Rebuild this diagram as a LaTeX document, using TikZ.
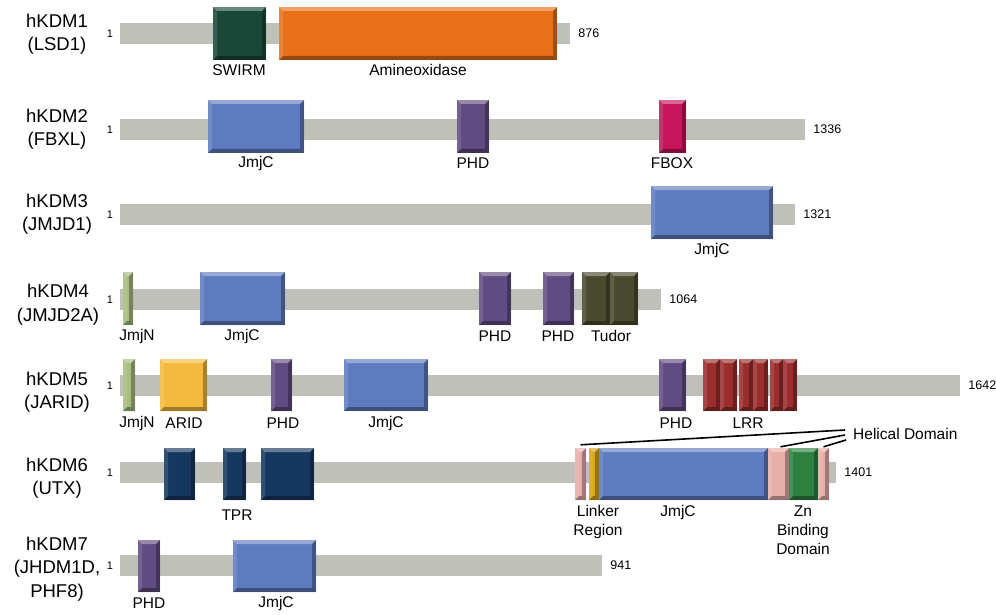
\documentclass[tikz,border=0pt]{standalone}
\usepackage{fontspec}
\setmainfont{Liberation Sans}
\usetikzlibrary{fit}
\definecolor{bargray}{RGB}{191,192,186}
\definecolor{cswirm}{RGB}{26,72,56}
\definecolor{corange}{RGB}{232,112,25}
\definecolor{cjmjc}{RGB}{93,123,190}
\definecolor{cphd}{RGB}{96,76,130}
\definecolor{cfbox}{RGB}{200,20,90}
\definecolor{cjmjn}{RGB}{168,190,128}
\definecolor{ctudor}{RGB}{74,74,46}
\definecolor{carid}{RGB}{243,186,62}
\definecolor{clrr}{RGB}{155,45,45}
\definecolor{ctpr}{RGB}{22,56,96}
\definecolor{cpink}{RGB}{232,175,168}
\definecolor{clink}{RGB}{218,165,18}
\definecolor{czn}{RGB}{46,128,64}
\newcommand{\domb}[6]{\node[dom=#6, fit={(#2,#4)(#3,#5)}] (#1) {};}
\newcommand{\barb}[4]{\node[bar, fit={(120,#2)(#3,#4)}] (#1) {};}
\begin{document}
\begin{tikzpicture}[x=1pt,y=-1pt,
  bar/.style={fill=bargray, draw=none, inner sep=0pt},
  dom/.style={fill=#1, draw=none, inner sep=0pt, path picture={
    \fill[white,opacity=0.35] (path picture bounding box.north west) -- (path picture bounding box.north east)
      -- ([xshift=-4pt,yshift=-4pt]path picture bounding box.north east) -- ([xshift=4pt,yshift=-4pt]path picture bounding box.north west) -- cycle;
    \fill[black,opacity=0.35] (path picture bounding box.south west) -- (path picture bounding box.south east)
      -- ([xshift=-4pt,yshift=4pt]path picture bounding box.south east) -- ([xshift=4pt,yshift=4pt]path picture bounding box.south west) -- cycle;
    \fill[black,opacity=0.3] (path picture bounding box.north east) -- (path picture bounding box.south east)
      -- ([xshift=-4pt,yshift=4pt]path picture bounding box.south east) -- ([xshift=-4pt,yshift=-4pt]path picture bounding box.north east) -- cycle;
    \fill[white,opacity=0.12] (path picture bounding box.north west) -- (path picture bounding box.south west)
      -- ([xshift=4pt,yshift=4pt]path picture bounding box.south west) -- ([xshift=4pt,yshift=-4pt]path picture bounding box.north west) -- cycle;
  }},
  lbl/.style={font=\fontsize{15.5}{19}\selectfont, inner sep=0pt, align=center},
  pname/.style={font=\fontsize{18.5}{23.5}\selectfont, inner sep=0pt, align=center},
  num/.style={font=\fontsize{12.5}{14}\selectfont, inner sep=0pt},
  snum/.style={font=\fontsize{11}{13}\selectfont, inner sep=0pt},
  conn/.style={line width=1.6pt, black}
]
\fill[white] (0,0) rectangle (996,615);
\useasboundingbox (0,0) rectangle (996,615);

% left names
\node[pname] (n1) at (57,34) {hKDM1\\(LSD1)};
\node[pname] (n2) at (57,129) {hKDM2\\(FBXL)};
\node[pname] (n3) at (57,214) {hKDM3\\(JMJD1)};
\node[pname] (n4) at (58,304.5) {hKDM4\\(JMJD2A)};
\node[pname] (n5) at (57,392) {hKDM5\\(JARID)};
\node[pname] (n6) at (57,478) {hKDM6\\(UTX)};
\node[pname] (n7) at (57,569) {hKDM7\\(JHDM1D,\\PHF8)};

% bars
\barb{b1}{23}{570}{44}
\barb{b2}{119}{805}{140}
\barb{b3}{204}{795}{225}
\barb{b4}{289}{661}{310}
\barb{b5}{375}{960}{396}
\barb{b6}{462}{836}{483}
\barb{b7}{555}{602}{576}

% start / end numbers
\foreach \b/\e in {b1/876,b2/1336,b3/1321,b4/1064,b5/1642,b6/1401,b7/941}{
  \node[snum, anchor=east] (\b s) at ([xshift=-6.5pt]\b.west) {1};
  \node[num, anchor=west] (\b e) at ([xshift=8pt]\b.east) {\e};
}

% row 1
\domb{r1a}{213}{266}{7}{60}{cswirm}
\domb{r1b}{279}{557}{7}{60}{corange}
\node[lbl] (l1a) at (239,70) {SWIRM};
\node[lbl] (l1b) at (418,70) {Amineoxidase};

% row 2
\domb{r2a}{208}{304}{100}{153}{cjmjc}
\domb{r2b}{457}{489}{100}{153}{cphd}
\domb{r2c}{659}{686}{100}{153}{cfbox}
\node[lbl] (l2a) at (256,163) {JmjC};
\node[lbl] (l2b) at (473,163) {PHD};
\node[lbl] (l2c) at (672,163) {FBOX};

% row 3
\domb{r3a}{651}{773}{186}{239}{cjmjc}
\node[lbl] (l3a) at (712,250) {JmjC};

% row 4
\domb{r4a}{123}{133}{272}{325}{cjmjn}
\domb{r4b}{200}{285}{272}{325}{cjmjc}
\domb{r4c}{479}{511}{272}{325}{cphd}
\domb{r4d}{543}{574}{272}{325}{cphd}
\domb{r4e}{582}{610}{272}{325}{ctudor}
\domb{r4f}{610}{638}{272}{325}{ctudor}
\node[lbl] (l4a) at (137,336) {JmjN};
\node[lbl] (l4b) at (242,336) {JmjC};
\node[lbl] (l4c) at (495,336) {PHD};
\node[lbl] (l4d) at (558,336) {PHD};
\node[lbl] (l4e) at (611,336) {Tudor};

% row 5
\domb{r5a}{123}{135}{359}{411}{cjmjn}
\domb{r5b}{160}{207}{359}{411}{carid}
\domb{r5c}{271}{292}{359}{411}{cphd}
\domb{r5d}{344}{428}{359}{411}{cjmjc}
\domb{r5e}{659}{686}{359}{411}{cphd}
\domb{r5f}{703}{720}{359}{411}{clrr}
\domb{r5g}{720}{737}{359}{411}{clrr}
\domb{r5h}{739}{753}{359}{411}{clrr}
\domb{r5i}{753}{768}{359}{411}{clrr}
\domb{r5j}{770}{783}{359}{411}{clrr}
\domb{r5k}{783}{797}{359}{411}{clrr}
\node[lbl] (l5a) at (137,423) {JmjN};
\node[lbl] (l5b) at (184,423) {ARID};
\node[lbl] (l5c) at (283,423) {PHD};
\node[lbl] (l5d) at (386,423) {JmjC};
\node[lbl] (l5e) at (676,423) {PHD};
\node[lbl] (l5f) at (748,423) {LRR};

% row 6
\domb{r6a}{164}{195}{448}{500}{ctpr}
\domb{r6b}{223}{246}{448}{500}{ctpr}
\domb{r6c}{261}{314}{448}{500}{ctpr}
\domb{r6d}{575}{586}{448}{500}{cpink}
\domb{r6e}{589}{599}{448}{500}{clink}
\domb{r6f}{599}{768}{448}{500}{cjmjc}
\domb{r6g}{768}{789}{448}{500}{cpink}
\domb{r6h}{789}{818}{448}{500}{czn}
\domb{r6i}{818}{829}{448}{500}{cpink}
\node[lbl] (l6a) at (237,515) {TPR};
\node[lbl] (l6b) at (598,521.5) {Linker\\Region};
\node[lbl] (l6c) at (678,512) {JmjC};
\node[lbl] (l6d) at (803,530) {Zn\\Binding\\Domain};
\node[lbl, anchor=west] (hel) at (853,434) {Helical Domain};
\coordinate (h1) at (845,430);
\coordinate (h2) at (845,435);
\coordinate (h3) at (846,440);
\draw[conn] ([yshift=3pt]r6d.north) -- (h1);
\draw[conn] ([xshift=2pt,yshift=1pt]r6g.north) -- (h2);
\draw[conn] ([yshift=1pt]r6i.north) -- (h3);

% row 7
\domb{r7a}{138}{160}{540}{592}{cphd}
\domb{r7b}{233}{316}{540}{592}{cjmjc}
\node[lbl] (l7a) at (149,603) {PHD};
\node[lbl] (l7b) at (276,603) {JmjC};
\end{tikzpicture}
\end{document}
